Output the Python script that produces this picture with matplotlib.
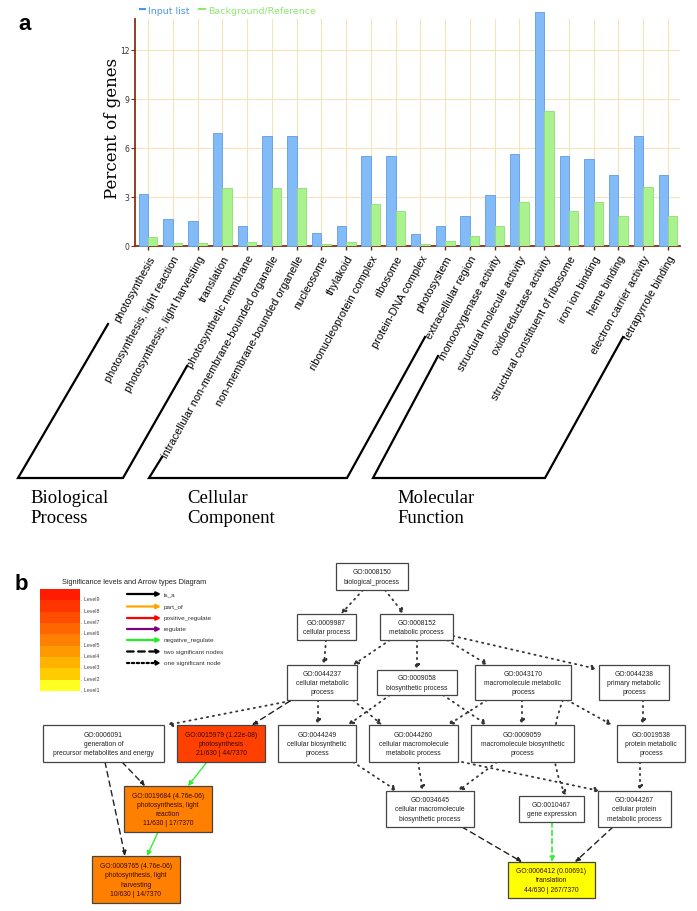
import matplotlib
matplotlib.use('Agg')
import matplotlib.pyplot as plt
from matplotlib.patches import Rectangle
from matplotlib.lines import Line2D
import numpy as np

# ---- panel a: GO term percentages ----
go_terms = ['photosynthesis', 'photosynthesis, light reaction', 'photosynthesis, light harvesting',
            'translation', 'photosynthetic membrane', 'intracellular non-membrane-bounded organelle',
            'non-membrane-bounded organelle', 'nucleosome', 'thylakoid', 'ribonucleoprotein complex',
            'ribosome', 'protein-DNA complex', 'photosystem', 'extracellular region',
            'monooxygenase activity', 'structural molecule activity', 'oxidoreductase activity',
            'structural constituent of ribosome', 'iron ion binding', 'heme binding',
            'electron carrier activity', 'tetrapyrrole binding']
input_pct = [3.2, 1.64, 1.53, 6.9, 1.23, 6.75, 6.75, 0.76, 1.23, 5.52, 5.52, 0.72, 1.23, 1.84,
             3.13, 5.63, 14.3, 5.52, 5.32, 4.34, 6.75, 4.34]
background_pct = [0.55, 0.15, 0.15, 3.54, 0.2, 3.54, 3.54, 0.1, 0.22, 2.56, 2.15, 0.1, 0.29, 0.58,
                  1.23, 2.66, 8.24, 2.15, 2.66, 1.84, 3.62, 1.84]
series_names = ['Input list', 'Background/Reference']
group_names = ['Biological\nProcess', 'Cellular\nComponent', 'Molecular\nFunction']

# ---- panel b: GO graph ----
node_ids = ['GO:0008150', 'GO:0009987', 'GO:0008152', 'GO:0044237', 'GO:0009058', 'GO:0043170',
            'GO:0044238', 'GO:0006091', 'GO:0015979', 'GO:0044249', 'GO:0044260', 'GO:0009059',
            'GO:0019538', 'GO:0019684', 'GO:0034645', 'GO:0010467', 'GO:0044267', 'GO:0009765',
            'GO:0006412']
node_names = ['biological_process', 'cellular process', 'metabolic process',
              'cellular metabolic\nprocess', 'biosynthetic process',
              'macromolecule metabolic\nprocess', 'primary metabolic\nprocess',
              'generation of\nprecursor metabolites and energy', 'photosynthesis',
              'cellular biosynthetic\nprocess', 'cellular macromolecule\nmetabolic process',
              'macromolecule biosynthetic\nprocess', 'protein metabolic\nprocess',
              'photosynthesis, light\nreaction', 'cellular macromolecule\nbiosynthetic process',
              'gene expression', 'cellular protein\nmetabolic process',
              'photosynthesis, light\nharvesting', 'translation']
node_pvals = {'GO:0015979': '1.22e-08', 'GO:0019684': '4.76e-06', 'GO:0009765': '4.76e-06',
              'GO:0006412': '0.00691'}
node_counts = {'GO:0015979': '21/630 | 44/7370', 'GO:0019684': '11/630 | 17/7370',
               'GO:0009765': '10/630 | 14/7370', 'GO:0006412': '44/630 | 267/7370'}
node_colors = {'GO:0015979': '#ff4000', 'GO:0019684': '#ff8000', 'GO:0009765': '#ff8000',
               'GO:0006412': '#ffff00'}
edges = [('GO:0008150', 'GO:0009987', 'one'), ('GO:0008150', 'GO:0008152', 'one'),
         ('GO:0009987', 'GO:0044237', 'one'), ('GO:0008152', 'GO:0044237', 'one'),
         ('GO:0008152', 'GO:0009058', 'one'), ('GO:0008152', 'GO:0043170', 'one'),
         ('GO:0008152', 'GO:0044238', 'one'), ('GO:0044237', 'GO:0006091', 'one'),
         ('GO:0044237', 'GO:0015979', 'two'), ('GO:0044237', 'GO:0044249', 'one'),
         ('GO:0044237', 'GO:0044260', 'one'), ('GO:0009058', 'GO:0044249', 'one'),
         ('GO:0009058', 'GO:0009059', 'one'), ('GO:0043170', 'GO:0044260', 'one'),
         ('GO:0043170', 'GO:0009059', 'one'), ('GO:0043170', 'GO:0010467', 'one'),
         ('GO:0043170', 'GO:0019538', 'one'), ('GO:0044238', 'GO:0019538', 'one'),
         ('GO:0044249', 'GO:0034645', 'one'), ('GO:0044260', 'GO:0034645', 'one'),
         ('GO:0009059', 'GO:0034645', 'one'), ('GO:0044260', 'GO:0044267', 'one'),
         ('GO:0019538', 'GO:0044267', 'one'), ('GO:0034645', 'GO:0006412', 'two'),
         ('GO:0010467', 'GO:0006412', 'neg_two'), ('GO:0044267', 'GO:0006412', 'two'),
         ('GO:0006091', 'GO:0019684', 'two'), ('GO:0006091', 'GO:0009765', 'two'),
         ('GO:0015979', 'GO:0019684', 'neg'), ('GO:0019684', 'GO:0009765', 'neg')]
level_names = ['Level%d' % i for i in range(9, 0, -1)]
level_colors = ['#ff1c00', '#ff3500', '#ff4d00', '#ff6600', '#ff8000', '#ff9900', '#ffb300',
                '#ffcc00', '#ffff22']
arrow_names = ['is_a', 'part_of', 'positive_regulate', 'regulate', 'negative_regulate',
               'two significant nodes', 'one significant node']

# ---- layout (pixels in a 697x912 canvas) ----
node_boxes = {
    'GO:0008150': (336, 564, 408, 591), 'GO:0009987': (297, 615, 356, 641),
    'GO:0008152': (380, 615, 453, 641), 'GO:0044237': (287, 666, 357, 701),
    'GO:0009058': (377, 671, 457, 696), 'GO:0043170': (475, 666, 571, 701),
    'GO:0044238': (599, 666, 669, 701), 'GO:0006091': (43, 726, 164, 763),
    'GO:0015979': (177, 726, 265, 763), 'GO:0044249': (278, 726, 356, 763),
    'GO:0044260': (369, 726, 458, 763), 'GO:0009059': (471, 726, 574, 763),
    'GO:0019538': (617, 726, 685, 763), 'GO:0019684': (124, 787, 212, 833),
    'GO:0034645': (386, 792, 474, 828), 'GO:0010467': (519, 797, 584, 823),
    'GO:0044267': (598, 792, 671, 828), 'GO:0009765': (92, 857, 180, 904),
    'GO:0006412': (508, 863, 595, 899)}
edge_points = [((363, 591), (341, 615)), ((385, 591), (404, 615)), ((326, 641), (324, 666)),
               ((390, 641), (353, 666)), ((417, 641), (417, 671)), ((447, 641), (488, 666)),
               ((453, 637), (597, 670)), ((290, 702), (167, 726)), ((290, 702), (252, 726)),
               ((318, 701), (318, 726)), ((353, 701), (382, 726)), ((390, 696), (348, 726)),
               ((443, 696), (487, 726)), ((487, 701), (448, 726)), ((522, 701), (522, 726)),
               ((563, 701), (566, 797)), ((567, 701), (612, 726)), ((643, 701), (643, 726)),
               ((353, 763), (397, 792)), ((418, 763), (423, 792)), ((497, 763), (458, 792)),
               ((462, 763), (600, 792)), ((640, 763), (640, 792)), ((462, 828), (522, 863)),
               ((552, 823), (552, 863)), ((613, 828), (575, 863)), ((122, 763), (145, 787)),
               ((105, 763), (125, 857)), ((207, 763), (188, 787)), ((158, 833), (147, 857))]
edge_styles = {'one': ('#333333', (0, (0.7, 2.6)), 1.3), 'two': ('#222222', (0, (4, 3)), 1.0),
               'neg': ('#33ee33', '-', 1.0), 'neg_two': ('#33ee33', (0, (3, 2)), 1.2)}
arrow_styles = [('black', '-'), ('#ffa500', '-'), ('red', '-'), ('#800080', '-'),
                ('#22ee22', '-'), ('black', (0, (3, 2))), ('black', (0, (1, 1.2)))]

fig = plt.figure(figsize=(6.97, 9.12), dpi=100)
canvas = fig.add_axes([0, 0, 1, 1])
canvas.set_xlim(0, 697)
canvas.set_ylim(912, 0)
canvas.axis('off')

# bar chart
ax = fig.add_axes([135 / 697, 1 - 246.7 / 912, 545 / 697, 226.7 / 912])
x = np.arange(len(go_terms))
w = 0.38
ax.bar(x - w / 2, input_pct, w, color='#82bbf7', edgecolor='#5d9de6', lw=0.6, zorder=3,
       clip_on=False)
ax.bar(x + w / 2, background_pct, w, color='#aaf28e', edgecolor='#8fdd72', lw=0.6, zorder=3)
ax.set_xlim(-0.525, len(go_terms) - 0.515)
ax.set_ylim(0, 13.9)
ax.set_yticks([0, 3, 6, 9, 12])
ax.set_xticks(x)
ax.set_xticklabels(go_terms, rotation=61, ha='right', rotation_mode='anchor',
                   fontsize=7.9, family='Liberation Sans')
ax.tick_params(axis='x', length=3, width=1, color='#6b2a12', pad=2.5)
ax.tick_params(axis='y', length=3, width=0.8, color='#6b2a12', labelsize=5.5,
               labelcolor='#333333', pad=1)
ax.grid(color='#f4e4b8', lw=0.8)
ax.set_axisbelow(True)
for s in ['top', 'right']:
    ax.spines[s].set_visible(False)
for s in ['left', 'bottom']:
    ax.spines[s].set_color('#8a2f12')
    ax.spines[s].set_linewidth(1.3)
ax.patch.set_alpha(0)
handles = [Line2D([], [], color='#4a98ee', lw=1.5), Line2D([], [], color='#8ee870', lw=1.5)]
leg = fig.legend(handles, series_names, loc='center left', bbox_to_anchor=(135, 11),
                 bbox_transform=canvas.transData, ncol=2, frameon=False, fontsize=6.8,
                 handlelength=0.6, handletextpad=0.3, columnspacing=1.0, borderpad=0)
for t, c in zip(leg.get_texts(), ['#4a98ee', '#8ee870']):
    t.set_color(c)
fig.text(113 / 697, 1 - 128 / 912, 'Percent of genes', rotation=90, family='DejaVu Serif',
         fontsize=12, ha='center', va='center')
canvas.text(18, 30, 'a', fontsize=16, fontweight='bold', family='Liberation Sans')

# group brackets
bracket_x = [[108, 18, 123, 187], [162, 149, 347, 425], [438, 373, 545, 623]]
bracket_y = [[325, 479, 479, 367], [458, 479, 479, 338], [357, 479, 479, 338]]
label_x = [30, 187, 397]
for bx, by, lx, name in zip(bracket_x, bracket_y, label_x, group_names):
    canvas.plot(bx, by, color='black', lw=1.6, solid_joinstyle='miter')
    canvas.text(lx, 490, name, va='top', ha='left', family='Liberation Serif', fontsize=13.5,
                linespacing=1.2)

# panel b legend
canvas.text(15, 590, 'b', fontsize=16, fontweight='bold', family='Liberation Sans')
canvas.text(62, 583, 'Significance levels and Arrow types Diagram', fontsize=5.3,
            family='Liberation Sans', va='center', color='#222222')
row_h = (692 - 590) / len(level_names)
for i, (name, col) in enumerate(zip(level_names, level_colors)):
    y0 = 590 + i * row_h
    canvas.add_patch(Rectangle((40, y0), 40, row_h, facecolor=col, edgecolor='none'))
    canvas.text(81, y0 + row_h - 1.5, '. ' + name, fontsize=3.8, family='Liberation Sans',
                va='center', color='#444444')
arrow_y = [595, 607.5, 619, 630, 641, 652.5, 664]
for (col, ls), name, ay in zip(arrow_styles, arrow_names, arrow_y):
    canvas.annotate('', xy=(161, ay), xytext=(127, ay),
                    arrowprops=dict(arrowstyle='-|>', color=col, lw=1.6, ls=ls,
                                    mutation_scale=6, shrinkA=0, shrinkB=0))
    canvas.text(164, ay, name, fontsize=4.6, family='Liberation Sans', va='center',
                color='#333333')

# graph edges
for (src, dst, kind), (p0, p1) in zip(edges, edge_points):
    col, ls, lw = edge_styles[kind]
    conn = 'arc3,rad=0.22' if (src, dst) == ('GO:0043170', 'GO:0010467') else 'arc3'
    canvas.annotate('', xy=p1, xytext=p0,
                    arrowprops=dict(arrowstyle='-|>', color=col, lw=lw, ls=ls,
                                    mutation_scale=7, shrinkA=0, shrinkB=0,
                                    connectionstyle=conn))

# graph nodes
for gid, name in zip(node_ids, node_names):
    x0, y0, x1, y1 = node_boxes[gid]
    if gid in node_colors:
        face = node_colors[gid]
        txt = '%s (%s)\n%s\n%s' % (gid, node_pvals[gid], name, node_counts[gid])
        tcol = '#3a0a00'
    else:
        face = 'white'
        txt = gid + '\n' + name
        tcol = '#222222'
    canvas.add_patch(Rectangle((x0, y0), x1 - x0, y1 - y0, facecolor=face,
                               edgecolor='#444444', lw=0.9, zorder=3))
    canvas.text((x0 + x1) / 2, (y0 + y1) / 2, txt, ha='center', va='center', fontsize=4.9,
                family='Liberation Sans', color=tcol, linespacing=1.45, zorder=4)

fig.savefig('out.png', dpi=100)
